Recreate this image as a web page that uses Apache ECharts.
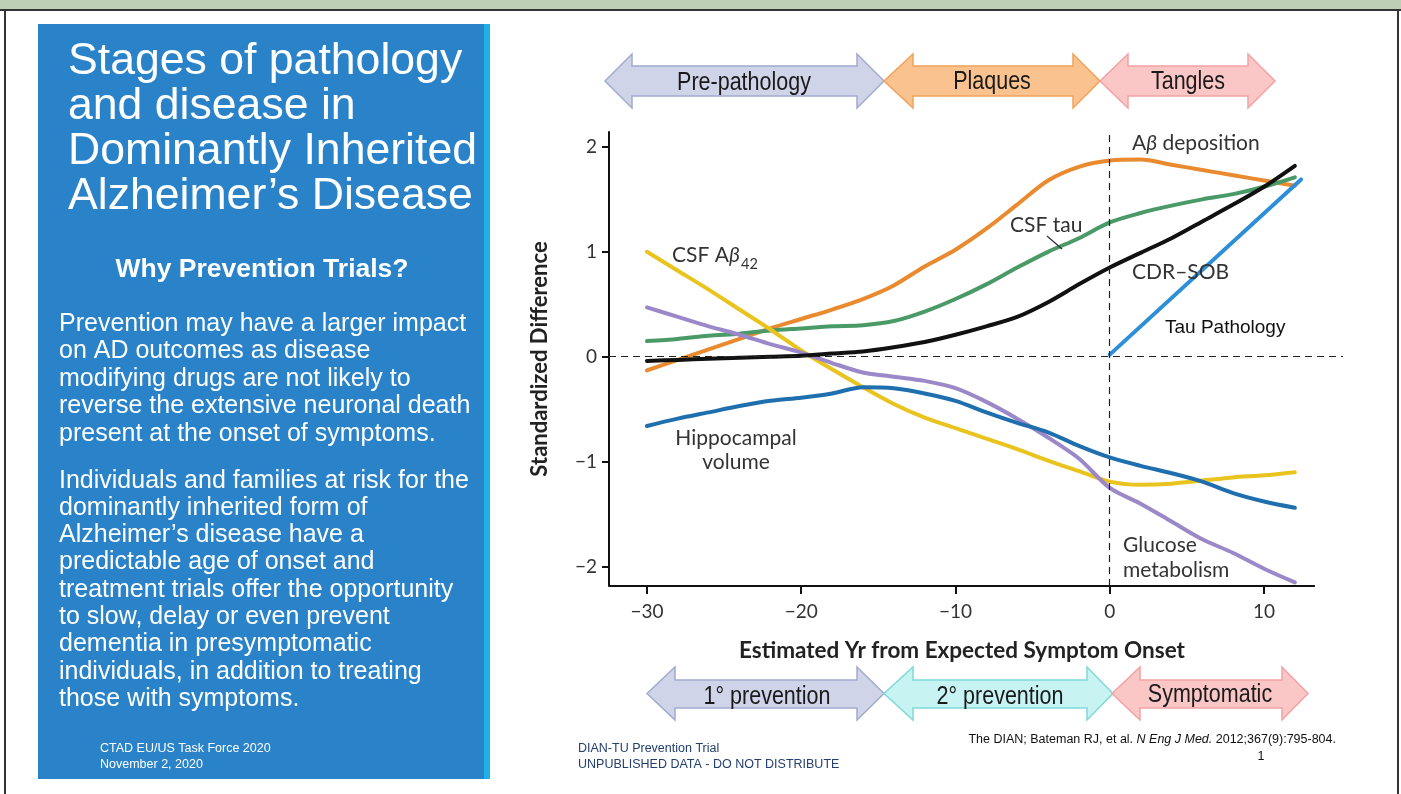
<!DOCTYPE html>
<html>
<head>
<meta charset="utf-8">
<title>Stages of pathology and disease in Dominantly Inherited Alzheimer's Disease</title>
<script src="https://cdn.jsdelivr.net/npm/echarts@6/dist/echarts.min.js"></script>
<style>
html, body { margin: 0; padding: 0; background: #fff; }
#stages_chart { width: 1401px; height: 794px; }
</style>
</head>
<body>
<div id="stages_chart"></div>
<script>
// estimated years from expected symptom onset
var years = [-30, -28, -26, -24, -22, -20, -18, -16, -14, -12, -10, -8, -6, -4, -2, 0, 2, 4, 6, 8, 10, 12];

// standardized difference per biomarker
var abDeposition = [-0.13, -0.03, 0.07, 0.17, 0.27, 0.36, 0.45, 0.55, 0.68, 0.86, 1.02, 1.22, 1.45, 1.68, 1.81, 1.87, 1.88, 1.83, 1.78, 1.73, 1.68, 1.63];
var csfTau = [0.15, 0.17, 0.2, 0.22, 0.25, 0.27, 0.29, 0.3, 0.34, 0.43, 0.55, 0.69, 0.85, 1.0, 1.13, 1.28, 1.37, 1.44, 1.5, 1.55, 1.62, 1.71];
var cdrSob = [-0.04, -0.03, -0.02, -0.01, 0.0, 0.01, 0.03, 0.05, 0.09, 0.14, 0.21, 0.29, 0.38, 0.52, 0.69, 0.85, 0.99, 1.13, 1.29, 1.45, 1.62, 1.82];
var csfAbeta42 = [1.0, 0.82, 0.64, 0.45, 0.26, 0.06, -0.12, -0.29, -0.45, -0.58, -0.68, -0.78, -0.88, -0.99, -1.09, -1.19, -1.22, -1.21, -1.18, -1.15, -1.13, -1.1];
var glucose = [0.47, 0.38, 0.29, 0.21, 0.12, 0.04, -0.06, -0.15, -0.19, -0.23, -0.3, -0.43, -0.59, -0.77, -0.97, -1.25, -1.4, -1.57, -1.74, -1.87, -2.02, -2.15];
var hippocampal = [-0.66, -0.59, -0.53, -0.47, -0.42, -0.39, -0.35, -0.29, -0.3, -0.35, -0.42, -0.53, -0.63, -0.72, -0.85, -0.96, -1.04, -1.11, -1.19, -1.3, -1.38, -1.44];

var tauYears = [0, 12.4];
var tauPathology = [0.02, 1.69];

var xTicks = [-30, -20, -10, 0, 10];
var yTicks = [-2, -1, 0, 1, 2];

var xMin = -32.46, xMax = 15.12, xAxisEnd = 13.3;
var yMin = -2.185, yMax = 2.142;

function pairs(xs, ys) {
    return xs.map(function (x, i) { return [x, ys[i]]; });
}

function minus(v) {
    return v < 0 ? '\u2212' + Math.abs(v) : String(v);
}

var sans = '"Liberation Sans", Arial, sans-serif';
var nejm = 'Lato, "Open Sans", sans-serif';

function txt(x, y, text, size, opts) {
    opts = opts || {};
    var va = opts.valign || 'middle';
    return {
        type: 'text', x: x, y: y, z: 20,
        scaleX: opts.scaleX || 1,
        style: {
            text: text,
            fill: opts.fill || '#fff',
            font: (opts.weight || 'normal') + ' ' + size + 'px ' + (opts.family || sans),
            align: opts.align || 'left', textAlign: opts.align || 'left',
            verticalAlign: va, textVerticalAlign: va,
            lineHeight: opts.lineHeight,
            rich: opts.rich
        }
    };
}

function dblArrow(x0, x1, x2, x3, top, shaftTop, shaftBottom, bottom, fill, stroke) {
    var cy = (top + bottom) / 2;
    return {
        type: 'polygon', z: 5,
        shape: { points: [[x0, cy], [x1, top], [x1, shaftTop], [x2, shaftTop], [x2, top], [x3, cy],
                          [x2, bottom], [x2, shaftBottom], [x1, shaftBottom], [x1, bottom]] },
        style: { fill: fill, stroke: stroke, lineWidth: 1.5 }
    };
}

var blueA = { fill: '#cfd4e8', stroke: '#a2aad0' };
var orangeA = { fill: '#f9c28e', stroke: '#f0a35a' };
var pinkA = { fill: '#fbc6c6', stroke: '#f2a3a3' };
var cyanA = { fill: '#c8f3f3', stroke: '#80d9d9' };

var labelRich = {
    n: { fill: '#333', font: 'normal 21px ' + nejm },
    b: { fill: '#333', font: 'italic 21px ' + nejm }
};

var graphics = [
    // slide frame
    { type: 'rect', z: 1, shape: { x: 0, y: 0, width: 1401, height: 9 }, style: { fill: '#bdd0b5' } },
    { type: 'rect', z: 1, shape: { x: 0, y: 9, width: 1401, height: 2 }, style: { fill: '#333' } },
    { type: 'rect', z: 1, shape: { x: 4, y: 9, width: 2, height: 785 }, style: { fill: '#333' } },
    { type: 'rect', z: 1, shape: { x: 1397, y: 9, width: 2, height: 785 }, style: { fill: '#333' } },
    // left panel
    { type: 'rect', z: 1, shape: { x: 38, y: 24, width: 447, height: 755 }, style: { fill: '#2a83c8' } },
    { type: 'rect', z: 1, shape: { x: 484, y: 24, width: 6, height: 755 }, style: { fill: '#1db1e6' } },
    txt(68, 39, 'Stages of pathology\nand disease in\nDominantly Inherited\nAlzheimer\u2019s Disease', 44.6, { lineHeight: 45, valign: 'top' }),
    txt(262, 270, 'Why Prevention Trials?', 26.5, { weight: 'bold', align: 'center' }),
    txt(59, 310, 'Prevention may have a larger impact\non AD outcomes as disease\nmodifying drugs are not likely to\nreverse the extensive neuronal death\npresent at the onset of symptoms.', 25, { lineHeight: 27.5, valign: 'top' }),
    txt(59, 467, 'Individuals and families at risk for the\ndominantly inherited form of\nAlzheimer\u2019s disease have a\npredictable age of onset and\ntreatment trials offer the opportunity\nto slow, delay or even prevent\ndementia in presymptomatic\nindividuals, in addition to treating\nthose with symptoms.', 25, { lineHeight: 27.3, valign: 'top' }),
    txt(100, 749, 'CTAD EU/US Task Force 2020', 12.5),
    txt(100, 765, 'November 2, 2020', 12.5),
    // stage arrows
    dblArrow(605, 632, 857, 884, 54, 66, 96, 108, blueA.fill, blueA.stroke),
    dblArrow(884, 913, 1073, 1100, 54, 66, 96, 108, orangeA.fill, orangeA.stroke),
    dblArrow(1100, 1128, 1248, 1275, 54, 66, 96, 108, pinkA.fill, pinkA.stroke),
    txt(744, 83, 'Pre-pathology', 25, { fill: '#1a1a1a', align: 'center', scaleX: 0.86 }),
    txt(992, 82, 'Plaques', 25, { fill: '#1a1a1a', align: 'center', scaleX: 0.86 }),
    txt(1188, 82, 'Tangles', 25, { fill: '#1a1a1a', align: 'center', scaleX: 0.86 }),
    dblArrow(647, 675, 857, 884, 667, 680, 708, 720, blueA.fill, blueA.stroke),
    dblArrow(884, 913, 1087, 1113, 667, 680, 708, 720, cyanA.fill, cyanA.stroke),
    dblArrow(1112, 1140, 1282, 1308, 667, 680, 708, 720, pinkA.fill, pinkA.stroke),
    txt(767, 697, '1\u00b0 prevention', 25, { fill: '#1a1a1a', align: 'center', scaleX: 0.86 }),
    txt(1000, 697, '2\u00b0 prevention', 25, { fill: '#1a1a1a', align: 'center', scaleX: 0.86 }),
    txt(1210, 695, 'Symptomatic', 25, { fill: '#1a1a1a', align: 'center', scaleX: 0.86 }),
    // footers
    txt(578, 749, 'DIAN-TU Prevention Trial', 12.5, { fill: '#24406e' }),
    txt(578, 765, 'UNPUBLISHED DATA - DO NOT DISTRIBUTE', 12.5, { fill: '#24406e' }),
    txt(1336, 740, '{n|The DIAN; Bateman RJ, et al. }{i|N Eng J Med.}{n| 2012;367(9):795-804.}', 12.5, {
        fill: '#111', align: 'right',
        rich: {
            n: { fill: '#111', font: 'normal 12.5px ' + sans },
            i: { fill: '#111', font: 'italic 12.5px ' + sans }
        }
    }),
    txt(1261, 757, '1', 12.5, { fill: '#111', align: 'center' }),
    // curve labels
    txt(1132, 143, '{n|A}{b|\u03b2}{n| deposition}', 21, { fill: '#333', rich: labelRich }),
    txt(672, 255, '{n|CSF A}{b|\u03b2}', 21, { fill: '#333', rich: labelRich }),
    txt(741, 264, '42', 14.5, { fill: '#333', family: nejm }),
    txt(1010, 225, 'CSF tau', 21, { fill: '#333', family: nejm }),
    { type: 'line', z: 20, shape: { x1: 1047, y1: 236, x2: 1062, y2: 249 }, style: { stroke: '#333', lineWidth: 1.3 } },
    txt(1132, 272, 'CDR\u2013SOB', 21, { fill: '#333', family: nejm }),
    txt(1165, 328, 'Tau Pathology', 19, { fill: '#111' }),
    txt(736, 426, 'Hippocampal\nvolume', 21, { fill: '#333', family: nejm, align: 'center', lineHeight: 24, valign: 'top' }),
    txt(1123, 533, 'Glucose\nmetabolism', 21, { fill: '#333', family: nejm, lineHeight: 25, valign: 'top' })
];

var chart = echarts.init(document.getElementById('stages_chart'));

function curve(name, xs, ys, color) {
    return {
        name: name, type: 'line', smooth: 0.3, showSymbol: false, symbol: 'none',
        data: pairs(xs, ys),
        lineStyle: { color: color, width: 4, cap: 'round' },
        itemStyle: { color: color }
    };
}

var guides = curve('CDR-SOB', years, cdrSob, '#111111');
guides.markLine = {
    silent: true, symbol: 'none', label: { show: false },
    data: [
        { yAxis: 0, lineStyle: { type: [7, 5], color: '#222', width: 1.2 } },
        { xAxis: 0, lineStyle: { type: [7, 5], color: '#222', width: 1.2 } },
        [{ coord: [xMin, yMin], lineStyle: { type: 'solid', color: '#111', width: 2 } }, { coord: [xAxisEnd, yMin] }]
    ]
};

chart.setOption({
    backgroundColor: '#fff',
    animation: false,
    graphic: graphics,
    grid: { left: 609, right: 58, top: 132, bottom: 208, containLabel: false },
    xAxis: {
        type: 'value', min: xMin, max: xMax,
        name: 'Estimated Yr from Expected Symptom Onset',
        nameLocation: 'middle', nameGap: 53,
        nameTextStyle: { fontFamily: nejm, fontWeight: 'bold', fontSize: 22.5, color: '#222', padding: [0, 28, 0, 0] },
        axisLine: { show: false, onZero: false },
        axisTick: { show: true, inside: false, length: 8, customValues: xTicks, lineStyle: { color: '#111', width: 2 } },
        axisLabel: { customValues: xTicks, formatter: minus, fontFamily: nejm, fontSize: 19, color: '#333', margin: 16 },
        splitLine: { show: false }
    },
    yAxis: {
        type: 'value', min: yMin, max: yMax,
        name: 'Standardized Difference',
        nameLocation: 'middle', nameGap: 58, nameRotate: 90,
        nameTextStyle: { fontFamily: nejm, fontWeight: 'bold', fontSize: 22, color: '#222' },
        axisLine: { show: true, onZero: false, lineStyle: { color: '#111', width: 2 } },
        axisTick: { show: true, inside: false, length: 7, customValues: yTicks, lineStyle: { color: '#111', width: 2 } },
        axisLabel: { customValues: yTicks, formatter: minus, fontFamily: nejm, fontSize: 19, color: '#333', margin: 12 },
        splitLine: { show: false }
    },
    series: [
        curve('A\u03b2 deposition', years, abDeposition, '#ea8a2e'),
        curve('CSF tau', years, csfTau, '#4a9a68'),
        curve('CSF A\u03b242', years, csfAbeta42, '#e9c41f'),
        curve('Glucose metabolism', years, glucose, '#9b88c8'),
        curve('Hippocampal volume', years, hippocampal, '#1f6fae'),
        guides,
        curve('Tau Pathology', tauYears, tauPathology, '#2d8fd8')
    ]
});

window.addEventListener('resize', function () {
    chart.resize();
});
</script>
</body>
</html>
